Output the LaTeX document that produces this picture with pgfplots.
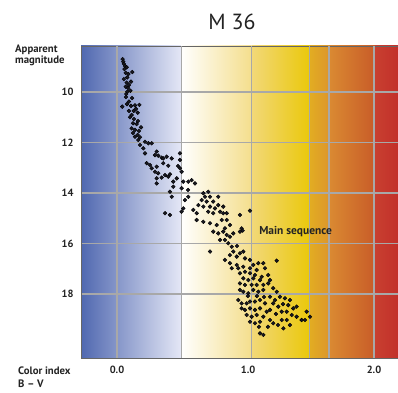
\documentclass[border=0pt]{standalone}
\usepackage{pgfplots}
\pgfplotsset{compat=1.18}
\usepackage{pgfplotstable}
\usepackage{fontspec}
\setmainfont{PT Sans}
\definecolor{bA}{RGB}{80,104,176}
\definecolor{bB}{RGB}{228,231,246}
\definecolor{yA}{RGB}{255,255,255}
\definecolor{yB}{RGB}{244,222,140}
\definecolor{yC}{RGB}{242,216,120}
\definecolor{yD}{RGB}{234,200,10}
\definecolor{oA}{RGB}{226,172,34}
\definecolor{oB}{RGB}{220,150,44}
\definecolor{oC}{RGB}{218,138,50}
\definecolor{oD}{RGB}{200,92,40}
\definecolor{rA}{RGB}{200,64,48}
\definecolor{rB}{RGB}{192,42,40}
\definecolor{txt}{RGB}{35,35,35}
\definecolor{grd}{RGB}{168,168,168}
\definecolor{dot}{RGB}{25,25,35}

\pgfplotstableread{
x y
0.044 8.70
0.049 8.80
0.054 8.89
0.062 8.97
0.075 9.02
0.119 9.21
0.068 9.24
0.080 9.42
0.109 9.59
0.075 9.63
0.068 9.79
0.104 9.95
0.080 9.99
0.072 10.08
0.093 10.38
0.041 10.58
0.109 10.55
0.140 10.53
0.174 10.51
0.093 10.75
0.130 10.75
0.161 10.82
0.114 10.91
0.101 11.00
0.125 11.24
0.153 11.27
0.187 11.40
0.114 11.44
0.140 11.50
0.161 11.70
0.179 11.79
0.058 9.09
0.089 9.29
0.054 9.49
0.093 9.72
0.086 9.84
0.070 10.20
0.117 10.24
0.078 10.48
0.148 10.67
0.132 11.07
0.163 11.15
0.171 11.54
0.125 11.62
0.140 11.77
0.166 11.90
0.218 11.97
0.244 12.03
0.270 12.03
0.179 12.10
0.205 12.23
0.218 12.43
0.309 12.36
0.321 12.52
0.348 12.60
0.360 12.63
0.387 12.56
0.426 12.63
0.490 12.43
0.490 12.69
0.231 12.82
0.257 12.89
0.270 13.02
0.309 12.96
0.360 12.82
0.399 12.92
0.490 13.02
0.503 13.16
0.296 13.16
0.321 13.22
0.348 13.39
0.374 13.29
0.399 13.35
0.412 13.26
0.309 13.42
0.309 13.62
0.438 13.55
0.465 13.42
0.516 13.55
0.555 13.55
0.438 13.75
0.503 13.81
0.412 13.95
0.426 14.15
0.555 14.15
0.529 14.28
0.374 14.80
0.412 14.87
0.503 14.74
0.516 14.61
0.296 12.50
0.475 12.93
0.553 13.88
0.581 13.49
0.607 13.62
0.672 14.01
0.710 13.95
0.685 14.15
0.724 14.15
0.659 14.28
0.698 14.34
0.749 14.34
0.788 14.48
0.633 14.48
0.672 14.54
0.724 14.54
0.763 14.61
0.827 14.54
0.594 14.67
0.620 14.80
0.710 14.74
0.749 14.80
0.802 14.74
0.827 14.80
0.957 14.87
1.035 14.70
0.854 15.07
0.815 15.07
0.620 15.07
0.672 15.14
0.724 15.20
0.776 15.27
0.879 15.27
0.840 15.40
0.970 15.40
0.978 15.49
0.788 14.15
0.854 14.80
0.749 15.53
0.788 15.60
0.827 15.53
0.854 15.66
0.905 15.60
0.957 15.53
0.802 15.86
0.840 15.86
0.866 15.99
0.893 16.13
0.724 16.32
0.905 16.32
0.957 16.39
0.983 16.32
0.879 16.46
0.932 16.52
0.996 16.59
1.035 16.65
0.840 16.65
0.879 16.78
0.932 16.85
0.983 16.92
1.061 16.85
1.100 16.78
1.139 16.78
1.243 16.68
0.893 16.98
0.944 16.98
1.035 16.98
1.087 17.05
1.152 16.98
0.879 15.73
0.934 16.10
0.957 17.18
0.996 17.12
1.035 17.18
1.074 17.25
1.126 17.32
1.177 17.25
1.191 17.45
0.983 17.38
1.022 17.45
1.061 17.38
1.113 17.45
0.957 17.58
0.996 17.64
1.048 17.64
1.087 17.64
1.139 17.64
1.177 17.58
1.216 17.77
1.243 17.91
0.957 17.84
0.983 17.91
1.022 17.97
1.061 17.84
1.100 17.91
1.139 17.84
1.191 18.11
1.268 18.11
1.307 18.17
1.346 18.24
0.944 18.24
0.970 18.37
1.009 18.37
1.035 18.30
1.074 18.30
1.113 18.24
1.152 18.37
1.216 18.37
1.255 18.50
1.333 18.44
1.372 18.57
1.398 18.50
1.476 18.70
1.502 18.90
0.970 18.57
0.996 18.63
1.035 18.57
1.074 18.63
1.113 18.57
1.165 18.70
1.191 18.63
1.282 18.70
1.321 18.70
1.360 18.83
1.398 18.90
1.437 19.03
1.009 18.83
1.048 18.90
1.087 18.83
1.139 18.90
1.191 19.03
1.216 19.16
1.282 19.03
1.321 19.03
1.035 19.10
1.074 19.16
1.113 19.10
1.295 19.36
1.113 19.56
1.139 19.62
1.463 19.03
1.019 18.08
1.089 18.08
1.144 18.12
1.230 18.24
1.292 18.40
1.237 18.79
1.105 19.30
1.175 19.30
1.253 19.23
1.346 19.23
}\stars

\begin{document}
\begin{tikzpicture}
\useasboundingbox (-81bp,-35bp) rectangle (317bp,358bp);
% background colour bands (plot area 0..321bp wide, 0..312bp high)
\shade[left color=bA, right color=bB] (0bp,0bp) rectangle (100bp,312bp);
\shade[left color=yA, right color=yB] (100bp,0bp) rectangle (170.7bp,312bp);
\shade[left color=yC, right color=yD] (170.7bp,0bp) rectangle (229bp,312bp);
\shade[left color=oA, right color=oB] (229bp,0bp) rectangle (248bp,312bp);
\shade[left color=oC, right color=oD] (248bp,0bp) rectangle (294bp,312bp);
\shade[left color=rA, right color=rB] (294bp,0bp) rectangle (325bp,312bp);
\begin{axis}[
  at={(0,0)}, anchor=south west,
  scale only axis,
  width=321.25bp, height=312bp,
  xmin=-0.280, xmax=2.22,
  ymin=8.178, ymax=20.535,
  y dir=reverse,
  axis line style={draw=black!60, line width=0.8pt},
  xtick={0,1.02,2}, xticklabels={0.0,1.0,2.0},
  ytick={10,12,14,16,18}, yticklabels={10,12,14,16,18},
  major tick length=0pt,
  extra x ticks={0,0.5,1.05,1.5,1.65,2.0},
  extra x tick labels={},
  extra x tick style={grid=major},
  ymajorgrids,
  grid style={draw=grd, line width=1.1pt},
  tick label style={font=\fontsize{10.5}{12}\selectfont\bfseries, text=txt},
  xticklabel style={yshift=-4.5pt},
  yticklabel style={xshift=-4pt},
  clip=true,
]
\addplot[only marks, mark=*, mark size=1.9bp, mark options={fill=dot, draw=none}] table[x=x, y=y] {\stars};
\node[anchor=west, text=txt, font=\fontsize{11.5}{13}\selectfont\bfseries] at (axis cs:1.08,15.54) {Main sequence};
\end{axis}
\node[text=txt, font=\fontsize{22}{24}\selectfont] at (151bp,336bp) {M 36};
\node[anchor=north west, align=left, text=txt, inner sep=0pt, font=\fontsize{10.8}{10.5}\selectfont\bfseries] at (-66bp,313bp) {Apparent\\magnitude};
\node[anchor=north west, align=left, text=txt, inner sep=0pt, font=\fontsize{10.8}{13}\selectfont\bfseries] at (-63bp,-9bp) {Color index\\B -- V};
\end{tikzpicture}
\end{document}
